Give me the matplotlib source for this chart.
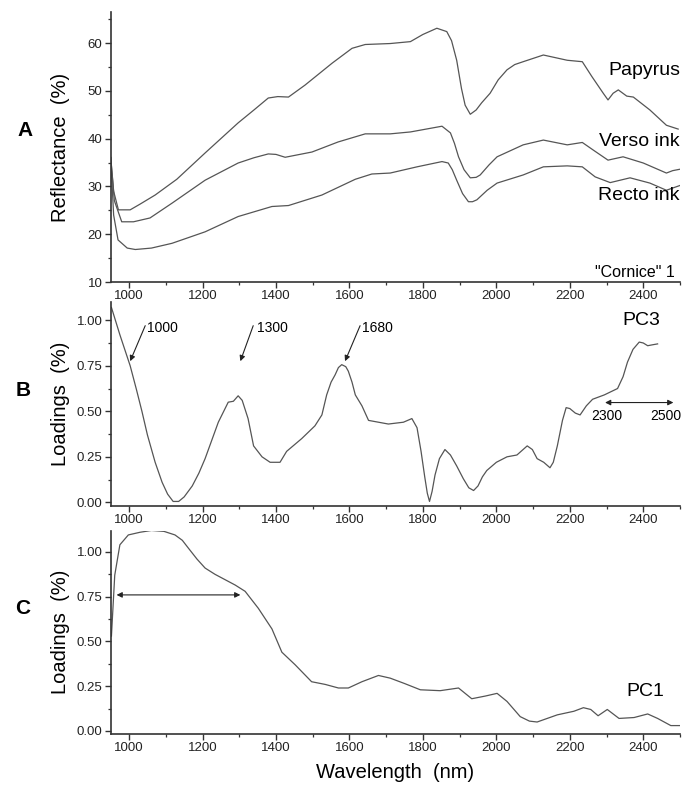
import numpy as np
import matplotlib
matplotlib.use("Agg")
from matplotlib import pyplot as plt
from matplotlib.ticker import MultipleLocator, FormatStrFormatter

plt.rcParams['font.family'] = ['Liberation Sans', 'DejaVu Sans']

# --- Panel A: reflectance spectra (%) ---
papyrus_wl = [950, 958, 971, 1003, 1030, 1071, 1130, 1207, 1297, 1340, 1379, 1405, 1434, 1479,
              1553, 1607, 1643, 1711, 1766, 1800, 1838, 1865, 1878, 1892, 1905, 1915, 1929,
              1945, 1960, 1983, 2005, 2029, 2050, 2073, 2128, 2193, 2234, 2260, 2291, 2304,
              2318, 2332, 2355, 2373, 2418, 2463, 2495]
papyrus = [36.1, 29.0, 25.1, 25.1, 26.3, 28.2, 31.5, 37.0, 43.3, 46.0, 48.5, 48.8, 48.7, 51.2,
           55.8, 58.9, 59.7, 59.9, 60.3, 61.8, 63.1, 62.4, 60.5, 56.4, 50.5, 47.0, 45.1,
           46.0, 47.5, 49.5, 52.3, 54.4, 55.5, 56.1, 57.5, 56.4, 56.1, 53.0, 49.5, 48.1,
           49.5, 50.2, 48.9, 48.7, 46.0, 42.8, 42.0]

verso_wl = [950, 960, 980, 1012, 1057, 1117, 1207, 1297, 1340, 1379, 1400, 1425, 1498, 1569,
            1643, 1711, 1766, 1852, 1875, 1886, 1897, 1912, 1929, 1945, 1956, 1980, 2002,
            2073, 2128, 2193, 2234, 2264, 2304, 2345, 2400, 2463, 2480, 2500]
verso = [36.0, 27.0, 22.6, 22.6, 23.4, 26.5, 31.3, 34.9, 36.0, 36.8, 36.7, 36.1, 37.2, 39.3,
         41.0, 41.0, 41.4, 42.6, 41.2, 39.0, 36.2, 33.5, 31.8, 31.9, 32.4, 34.5, 36.2,
         38.7, 39.7, 38.7, 39.2, 37.6, 35.5, 36.2, 34.9, 32.8, 33.3, 33.6]

recto_wl = [950, 958, 970, 995, 1017, 1061, 1117, 1207, 1297, 1389, 1434, 1525, 1616, 1661,
            1711, 1784, 1852, 1869, 1880, 1892, 1908, 1924, 1935, 1947, 1975, 2002, 2073,
            2128, 2193, 2234, 2269, 2310, 2364, 2418, 2463, 2500]
recto = [36.0, 24.0, 18.8, 17.1, 16.8, 17.1, 18.1, 20.5, 23.7, 25.8, 26.0, 28.2, 31.5, 32.6,
         32.8, 34.1, 35.2, 34.9, 33.5, 31.3, 28.5, 26.8, 26.8, 27.2, 29.2, 30.7, 32.4,
         34.1, 34.3, 34.1, 32.0, 30.8, 31.8, 30.7, 29.2, 30.2]

# --- Panel B: PC3 loadings ---
pc3_wl = [952, 975, 1003, 1020, 1035, 1050, 1071, 1090, 1105, 1120, 1135, 1150, 1172, 1190,
          1207, 1225, 1243, 1270, 1284, 1297, 1308, 1324, 1339, 1362, 1384, 1411, 1429, 1470,
          1506, 1525, 1538, 1550, 1561, 1570, 1579, 1590, 1597, 1607, 1616, 1634, 1652, 1679,
          1706, 1747, 1770, 1784, 1795, 1805, 1812, 1818, 1825, 1833, 1845, 1860, 1875, 1892,
          1910, 1925, 1938, 1950, 1962, 1974, 2000, 2029, 2056, 2084, 2098, 2111, 2129, 2146,
          2155, 2166, 2180, 2190, 2200, 2215, 2228, 2245, 2262, 2294, 2330, 2345, 2357, 2372,
          2389, 2400, 2412, 2425, 2439]
pc3 = [1.07, 0.92, 0.75, 0.62, 0.50, 0.37, 0.22, 0.11, 0.045, 0.005, 0.005, 0.03, 0.09, 0.16,
       0.24, 0.34, 0.44, 0.55, 0.555, 0.585, 0.56, 0.46, 0.31, 0.25, 0.22, 0.22, 0.28, 0.35,
       0.42, 0.48, 0.59, 0.66, 0.70, 0.74, 0.756, 0.745, 0.72, 0.66, 0.59, 0.53, 0.45, 0.44,
       0.43, 0.44, 0.46, 0.41, 0.28, 0.14, 0.05, 0.005, 0.06, 0.15, 0.24, 0.29, 0.26, 0.20,
       0.13, 0.08, 0.065, 0.09, 0.14, 0.175, 0.22, 0.25, 0.26, 0.31, 0.29, 0.24, 0.22, 0.19,
       0.22, 0.31, 0.45, 0.52, 0.515, 0.49, 0.48, 0.53, 0.566, 0.59, 0.625, 0.69, 0.77, 0.84,
       0.88, 0.875, 0.86, 0.865, 0.87]

# --- Panel C: PC1 loadings ---
pc1_wl = [952, 961, 975, 998, 1030, 1061, 1095, 1125, 1145, 1162, 1185, 1207, 1234, 1289,
          1316, 1352, 1389, 1416, 1452, 1497, 1534, 1570, 1597, 1634, 1679, 1711, 1750,
          1793, 1847, 1897, 1915, 1933, 1970, 2002, 2029, 2065, 2090, 2111, 2166, 2211, 2237,
          2257, 2277, 2302, 2334, 2375, 2412, 2439, 2475, 2500]
pc1 = [0.53, 0.87, 1.04, 1.095, 1.11, 1.12, 1.115, 1.095, 1.065, 1.02, 0.96, 0.91, 0.875, 0.815,
       0.78, 0.685, 0.57, 0.44, 0.37, 0.275, 0.26, 0.24, 0.24, 0.275, 0.31, 0.295, 0.265,
       0.23, 0.225, 0.24, 0.21, 0.18, 0.195, 0.21, 0.165, 0.08, 0.055, 0.05, 0.09, 0.11, 0.13,
       0.12, 0.085, 0.12, 0.07, 0.075, 0.095, 0.07, 0.03, 0.03]

line_col = '#555555'
W, H = 686, 786
fig = plt.figure(figsize=(W / 100, H / 100), dpi=100)


def px_axes(left, top, right, bottom):
    return fig.add_axes([left / W, 1 - bottom / H, (right - left) / W, (bottom - top) / H])


def style(ax, ylim, ymaj, fmt):
    ax.set_xlim(950, 2500)
    ax.set_ylim(*ylim)
    for s in ['top', 'right']:
        ax.spines[s].set_visible(False)
    for s in ['left', 'bottom']:
        ax.spines[s].set_linewidth(1.2)
        ax.spines[s].set_color('#333333')
    ax.xaxis.set_major_locator(MultipleLocator(200))
    ax.xaxis.set_minor_locator(MultipleLocator(100))
    ax.yaxis.set_major_locator(MultipleLocator(ymaj))
    ax.yaxis.set_minor_locator(MultipleLocator(ymaj / 2))
    ax.yaxis.set_major_formatter(FormatStrFormatter(fmt))
    ax.tick_params(which='major', direction='out', length=4, width=1, labelsize=9.5,
                   color='#333333', labelcolor='#222222', pad=2)
    ax.tick_params(which='minor', direction='out', length=2.5, width=0.9, color='#333333')


# --- A ---
axA = px_axes(110.7, 12, 680, 282)
axA.plot(papyrus_wl, papyrus, color=line_col, lw=0.9)
axA.plot(verso_wl, verso, color=line_col, lw=0.9)
axA.plot(recto_wl, recto, color=line_col, lw=0.9)
style(axA, (10, 66.5), 10, '%d')
axA.text(2500, 54.3, 'Papyrus', ha='right', va='center', fontsize=14)
axA.text(2500, 39.3, 'Verso ink', ha='right', va='center', fontsize=14)
axA.text(2500, 28.2, 'Recto ink', ha='right', va='center', fontsize=14)
axA.text(2485, 12.0, '"Cornice" 1', ha='right', va='center', fontsize=11.5)

# --- B ---
axB = px_axes(110.7, 302, 680, 506)
axB.plot(pc3_wl, pc3, color=line_col, lw=0.9)
style(axB, (-0.02, 1.10), 0.25, '%.2f')
arrow = dict(arrowstyle='-|>', color='#222222', lw=0.8, mutation_scale=8, shrinkA=0, shrinkB=0)
for lab, tip, start, tx in [('1000', 1003, 1044, 1048), ('1300', 1303, 1338, 1347),
                            ('1680', 1588, 1629, 1633)]:
    axB.annotate('', xy=(tip, 0.775), xytext=(start, 0.97), arrowprops=arrow)
    axB.text(tx, 0.956, lab, ha='left', va='center', fontsize=10)
axB.text(2395, 1.0, 'PC3', ha='center', va='center', fontsize=14)
dbl = dict(arrowstyle='<|-|>', color='#222222', lw=0.8, mutation_scale=8, shrinkA=0, shrinkB=0)
axB.annotate('', xy=(2296, 0.548), xytext=(2482, 0.548), arrowprops=dbl)
axB.text(2300, 0.474, '2300', ha='center', va='center', fontsize=10)
axB.text(2505, 0.474, '2500', ha='right', va='center', fontsize=10, clip_on=False)

# --- C ---
axC = px_axes(110.7, 531, 680, 734)
axC.plot(pc1_wl, pc1, color=line_col, lw=0.9)
style(axC, (-0.017, 1.117), 0.25, '%.2f')
axC.annotate('', xy=(966, 0.76), xytext=(1303, 0.76), arrowprops=dbl)
axC.text(2405, 0.22, 'PC1', ha='center', va='center', fontsize=14)

# --- labels ---
fig.text(25 / W, 1 - 130 / H, 'A', fontsize=15, fontweight='bold', ha='center', va='center')
fig.text(23 / W, 1 - 390 / H, 'B', fontsize=15, fontweight='bold', ha='center', va='center')
fig.text(23 / W, 1 - 608 / H, 'C', fontsize=15, fontweight='bold', ha='center', va='center')
fig.text(61 / W, 1 - 147 / H, 'Reflectance  (%)', rotation=90, fontsize=14.5, ha='center', va='center')
fig.text(61 / W, 1 - 404 / H, 'Loadings  (%)', rotation=90, fontsize=14.5, ha='center', va='center')
fig.text(61 / W, 1 - 632 / H, 'Loadings  (%)', rotation=90, fontsize=14.5, ha='center', va='center')
fig.text(395 / W, 1 - 773 / H, 'Wavelength  (nm)', fontsize=14.5, ha='center', va='center')

fig.savefig('out.png', dpi=100)
